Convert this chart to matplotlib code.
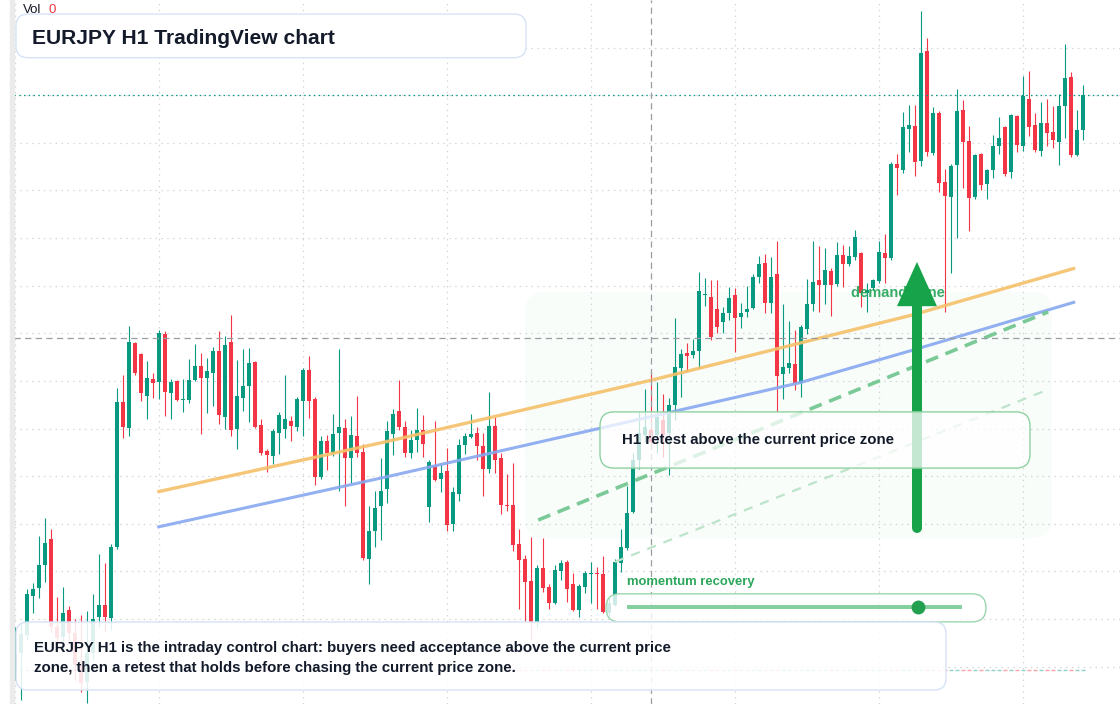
import numpy as np
import matplotlib
matplotlib.use("Agg")
from matplotlib import pyplot as plt
from matplotlib.patches import FancyBboxPatch, Polygon, Rectangle

plt.rcParams['font.family'] = ['Liberation Sans', 'DejaVu Sans']

# EURJPY H1 candles
open_ = [162.191, 162.229, 162.267, 162.348, 162.365, 162.414, 162.468, 162.283, 162.262, 162.319,
         162.271, 162.204, 162.168, 162.229, 162.304, 162.330, 162.302, 162.451, 162.756, 162.701,
         162.880, 162.857, 162.768, 162.804, 162.798, 162.899, 162.775, 162.800, 162.760, 162.760,
         162.802, 162.831, 162.806, 162.817, 162.863, 162.724, 162.882, 162.699, 162.764, 162.789,
         162.840, 162.708, 162.653, 162.642, 162.691, 162.699, 162.716, 162.703, 162.758, 162.823,
         162.762, 162.598, 162.674, 162.649, 162.691, 162.701, 162.638, 162.684, 162.651, 162.426,
         162.485, 162.537, 162.573, 162.689, 162.737, 162.703, 162.649, 162.676, 162.697, 162.535,
         162.621, 162.594, 162.611, 162.500, 162.563, 162.666, 162.682, 162.691, 162.663, 162.615,
         162.705, 162.638, 162.540, 162.540, 162.458, 162.426, 162.380, 162.294, 162.407, 162.367,
         162.334, 162.401, 162.420, 162.374, 162.319, 162.367, 162.395, 162.397, 162.395, 162.313,
         162.330, 162.418, 162.449, 162.525, 162.634, 162.686, 162.697, 162.686, 162.718, 162.691,
         162.750, 162.827, 162.859, 162.855, 162.863, 162.981, 162.976, 162.951, 162.924, 162.943,
         162.981, 162.934, 162.945, 162.953, 163.018, 163.048, 162.964, 163.025, 162.815, 162.827,
         162.836, 162.796, 162.909, 162.962, 163.012, 163.002, 163.031, 163.004, 163.065, 163.046,
         163.060, 163.069, 162.985, 162.995, 163.010, 163.069, 163.058, 163.256, 163.243, 163.329,
         163.335, 163.262, 163.493, 163.279, 163.363, 163.218, 163.186, 163.254, 163.369, 163.304,
         163.186, 163.277, 163.214, 163.243, 163.293, 163.333, 163.239, 163.356, 163.293, 163.392,
         163.338, 163.283, 163.342, 163.323, 163.302, 163.377, 163.438, 163.275, 163.327]
high = [162.283, 162.292, 162.363, 162.376, 162.474, 162.512, 162.489, 162.346, 162.367, 162.327,
        162.300, 162.309, 162.317, 162.353, 162.437, 162.418, 162.458, 162.785, 162.813, 162.915,
        162.882, 162.859, 162.842, 162.817, 162.907, 162.905, 162.804, 162.802, 162.804, 162.846,
        162.878, 162.859, 162.848, 162.871, 162.905, 162.894, 162.939, 162.844, 162.867, 162.869,
        162.842, 162.720, 162.657, 162.699, 162.735, 162.813, 162.726, 162.766, 162.827, 162.852,
        162.766, 162.684, 162.686, 162.731, 162.867, 162.720, 162.726, 162.768, 162.668, 162.537,
        162.569, 162.638, 162.716, 162.741, 162.802, 162.716, 162.697, 162.743, 162.729, 162.634,
        162.716, 162.626, 162.659, 162.577, 162.678, 162.691, 162.731, 162.703, 162.691, 162.777,
        162.724, 162.649, 162.605, 162.628, 162.489, 162.435, 162.472, 162.414, 162.470, 162.374,
        162.414, 162.424, 162.424, 162.397, 162.374, 162.401, 162.420, 162.409, 162.432, 162.344,
        162.426, 162.489, 162.579, 162.649, 162.735, 162.783, 162.821, 162.798, 162.773, 162.764,
        162.932, 162.867, 162.880, 162.888, 163.029, 163.016, 163.012, 163.012, 162.955, 162.997,
        162.995, 162.964, 162.999, 163.025, 163.062, 163.067, 163.060, 163.094, 162.962, 162.926,
        162.907, 162.918, 163.014, 163.094, 163.083, 163.079, 163.037, 163.092, 163.086, 163.083,
        163.117, 163.071, 163.006, 163.014, 163.094, 163.109, 163.260, 163.277, 163.365, 163.380,
        163.380, 163.577, 163.520, 163.375, 163.367, 163.245, 163.256, 163.413, 163.390, 163.335,
        163.277, 163.279, 163.245, 163.317, 163.354, 163.335, 163.361, 163.359, 163.440, 163.451,
        163.363, 163.386, 163.392, 163.377, 163.403, 163.508, 163.449, 163.369, 163.422]
low = [162.172, 162.130, 162.256, 162.313, 162.344, 162.378, 162.273, 162.239, 162.235, 162.256,
       162.172, 162.147, 162.124, 162.214, 162.283, 162.273, 162.277, 162.447, 162.680, 162.684,
       162.813, 162.758, 162.720, 162.764, 162.762, 162.726, 162.720, 162.758, 162.735, 162.754,
       162.800, 162.689, 162.733, 162.747, 162.710, 162.699, 162.684, 162.657, 162.737, 162.714,
       162.701, 162.645, 162.609, 162.626, 162.647, 162.680, 162.674, 162.695, 162.684, 162.722,
       162.581, 162.594, 162.613, 162.642, 162.569, 162.537, 162.586, 162.640, 162.424, 162.374,
       162.451, 162.466, 162.544, 162.645, 162.697, 162.640, 162.638, 162.651, 162.640, 162.504,
       162.590, 162.567, 162.485, 162.485, 162.548, 162.647, 162.680, 162.634, 162.558, 162.607,
       162.607, 162.521, 162.527, 162.443, 162.321, 162.296, 162.256, 162.281, 162.357, 162.321,
       162.332, 162.382, 162.336, 162.317, 162.304, 162.355, 162.334, 162.321, 162.313, 162.306,
       162.327, 162.399, 162.445, 162.523, 162.615, 162.672, 162.663, 162.649, 162.640, 162.603,
       162.718, 162.766, 162.821, 162.848, 162.827, 162.957, 162.886, 162.901, 162.901, 162.928,
       162.861, 162.911, 162.934, 162.951, 163.006, 162.943, 162.943, 162.735, 162.762, 162.817,
       162.781, 162.766, 162.899, 162.947, 162.945, 162.962, 162.936, 162.999, 162.997, 163.041,
       163.054, 162.955, 162.945, 162.991, 163.006, 163.006, 163.054, 163.191, 163.237, 163.281,
       163.230, 163.251, 163.272, 163.275, 163.197, 162.945, 163.027, 163.100, 163.205, 163.115,
       163.182, 163.201, 163.182, 163.226, 163.277, 163.230, 163.226, 163.281, 163.283, 163.314,
       163.281, 163.272, 163.293, 163.289, 163.254, 163.310, 163.270, 163.272, 163.306]
close = [162.225, 162.269, 162.353, 162.363, 162.414, 162.460, 162.283, 162.260, 162.313, 162.271,
         162.204, 162.166, 162.229, 162.300, 162.330, 162.304, 162.451, 162.756, 162.703, 162.882,
         162.817, 162.775, 162.806, 162.796, 162.901, 162.777, 162.798, 162.760, 162.762, 162.802,
         162.831, 162.806, 162.821, 162.863, 162.729, 162.876, 162.697, 162.768, 162.789, 162.838,
         162.703, 162.649, 162.645, 162.695, 162.729, 162.720, 162.705, 162.762, 162.823, 162.758,
         162.598, 162.674, 162.649, 162.689, 162.703, 162.638, 162.686, 162.649, 162.428, 162.485,
         162.533, 162.569, 162.695, 162.731, 162.703, 162.649, 162.676, 162.697, 162.668, 162.630,
         162.592, 162.607, 162.498, 162.567, 162.666, 162.684, 162.689, 162.663, 162.615, 162.705,
         162.634, 162.540, 162.537, 162.456, 162.424, 162.378, 162.294, 162.407, 162.365, 162.334,
         162.403, 162.418, 162.363, 162.319, 162.369, 162.397, 162.397, 162.395, 162.315, 162.334,
         162.420, 162.451, 162.523, 162.634, 162.691, 162.703, 162.672, 162.724, 162.686, 162.750,
         162.829, 162.857, 162.852, 162.863, 162.989, 162.983, 162.892, 162.913, 162.943, 162.974,
         162.932, 162.943, 162.951, 163.018, 163.046, 162.964, 163.018, 162.810, 162.829, 162.838,
         162.796, 162.913, 162.962, 163.008, 163.002, 163.033, 163.002, 163.065, 163.046, 163.062,
         163.102, 162.985, 162.991, 163.012, 163.071, 163.058, 163.256, 163.247, 163.333, 163.338,
         163.260, 163.489, 163.281, 163.363, 163.216, 163.188, 163.251, 163.367, 163.302, 163.184,
         163.275, 163.212, 163.243, 163.293, 163.310, 163.235, 163.359, 163.296, 163.398, 163.333,
         163.285, 163.342, 163.321, 163.306, 163.377, 163.436, 163.275, 163.327, 163.401]

# moving averages drawn on the chart (bar index, price)
ema_fast_x = [23.7, 61.7, 106.2, 149.7, 176.7]
ema_fast_y = [162.567, 162.672, 162.802, 162.939, 163.037]
ema_slow_x = [23.7, 61.7, 91.7, 130.7, 149.7, 176.7]
ema_slow_y = [162.493, 162.598, 162.684, 162.796, 162.865, 162.966]

# projected paths
path_main_x = [87.2, 172.2]
path_main_y = [162.508, 162.945]
path_alt_x = [100.0, 172.0]
path_alt_y = [162.420, 162.781]

# demand zone (bars, price)
zone_x = (85.0, 172.8)
zone_y = (162.470, 162.987)

crosshair_bar = 106
crosshair_price = 162.890
vol_base = 162.193

TEAL = '#089981'
RED = '#f23645'
DARK = '#131a2a'
GREEN = '#16a34a'

open_ = np.array(open_)
high = np.array(high)
low = np.array(low)
close = np.array(close)
idx = np.arange(len(close))

W, H = 1120, 704
fig = plt.figure(figsize=(W / 100, H / 100), dpi=100)
ax = fig.add_axes([14 / W, 0, 1 - 14 / W, 1])
xlim = (-0.17, 184.17)
ylim = (162.1216, 163.600)
ax.set_xlim(*xlim)
ax.set_ylim(*ylim)
ax.set_xticks(np.arange(0, 169, 24))
ax.set_yticks(np.arange(162.2, 163.55, 0.1))
ax.grid(True, color='#d3d5db', ls=(0, (1.2, 3.5)), lw=0.9, zorder=0)
ax.tick_params(length=0, labelleft=False, labelbottom=False)
for s in ax.spines.values():
    s.set_visible(False)
ax.set_axisbelow(True)

fig.patches.append(Rectangle((10 / W, 0), 4 / W, 1, transform=fig.transFigure,
                             color='#ebebeb', zorder=0))

# pixel sizes in data units, for round corners
xpp = (xlim[1] - xlim[0]) / (W - 14)
ypp = (ylim[1] - ylim[0]) / H


def rbox(x0, y0, x1, y1, r_px, fc, ec, lw=1.0, z=7, transform=None):
    if transform is None:
        rx, asp, tr = r_px * xpp, ypp / xpp, ax.transData
    else:
        rx, asp, tr = r_px / (W - 14), (1 / H) / (1 / (W - 14)), ax.transAxes
    p = FancyBboxPatch((x0, y0), x1 - x0, y1 - y0,
                       boxstyle=f"round,pad=0,rounding_size={rx}",
                       mutation_aspect=asp, fc=fc, ec=ec, lw=lw,
                       transform=tr, zorder=z)
    ax.add_patch(p)


# demand zone
rbox(zone_x[0], zone_y[0], zone_x[1], zone_y[1], 20, (0.13, 0.77, 0.37, 0.028), 'none', lw=0, z=1)

# crosshair
ax.axhline(crosshair_price, color='#9a9ca3', ls=(0, (5, 3.5)), lw=0.9, zorder=4.5)
ax.axvline(crosshair_bar, color='#9a9ca3', ls=(0, (5, 3.5)), lw=0.9, zorder=4.5)

# candles
up = close >= open_
cols = np.where(up, TEAL, RED)
ax.vlines(idx, low, high, colors=cols, lw=0.8, zorder=3)
body_lo = np.minimum(open_, close)
body_h = np.maximum(np.abs(close - open_), 0.0018)
ax.bar(idx, body_h, bottom=body_lo, width=0.7, color=cols, lw=0, zorder=3.1)

# zero volume strip
ax.hlines(np.full(len(idx), vol_base), idx - 0.35, idx + 0.35, colors=cols,
          alpha=0.45, lw=1, zorder=2)

# last price line
ax.axhline(close[-1], color=TEAL, ls=(0, (1.2, 2.6)), lw=0.9, zorder=4)

# averages and projections
ax.plot(ema_fast_x, ema_fast_y, color='#f5c069', lw=2.4, alpha=0.9,
        solid_capstyle='butt', zorder=4)
ax.plot(ema_slow_x, ema_slow_y, color='#87a8f0', lw=2.2, alpha=0.9,
        solid_capstyle='butt', zorder=4)
ax.plot(path_main_x, path_main_y, color='#6cc48b', lw=2.6, alpha=0.9,
        ls=(0, (3.6, 2.2)), zorder=4)
ax.plot(path_alt_x, path_alt_y, color='#bde4ca', lw=1.6,
        ls=(0, (4.2, 3.6)), zorder=4)

ax.text(139.33, 162.985, 'demand zone', color='#22a355', fontsize=10.5,
        fontweight='bold', va='center', ha='left', alpha=0.9, zorder=5)

# arrow
ax_x = 150.33
ax.plot([ax_x, ax_x], [162.491, 162.96], color=GREEN, lw=7.2,
        solid_capstyle='round', zorder=6)
ax.add_patch(Polygon([(ax_x - 3.33, 162.957), (ax_x + 3.33, 162.957), (ax_x, 163.050)],
                     closed=True, fc=GREEN, ec='none', zorder=6))

# retest callout
rbox(97.5, 162.617, 169.17, 162.735, 14, (1, 1, 1, 0.75), '#8fd1a2', lw=1.0, z=7)
ax.text(101.17, 162.675, 'H1 retest above the current price zone', color=DARK,
        fontsize=10.8, fontweight='bold', va='center', ha='left', zorder=7.5)

# momentum gauge
ax.text(102, 162.378, 'momentum recovery', color='#2aa75a', fontsize=9.4,
        fontweight='bold', va='center', ha='left', zorder=7.5)
rbox(98.5, 162.294, 161.83, 162.353, 14, (1, 1, 1, 0.8), '#9bd6ae', lw=1.0, z=7)
ax.plot([102, 157.83], [162.325, 162.325], color='#86cf9f', lw=2.9,
        solid_capstyle='butt', zorder=7.5)
ax.plot([150.5], [162.325], 'o', color='#22a050', ms=10, mec='none', zorder=7.6)

# note box
rbox(0.0018, 0.0199, 0.8427, 0.1165, 12, (1, 1, 1, 0.87), '#d6e2f6', lw=1.0, z=8,
     transform=True)
ax.text(0.0181, 0.0795, 'EURJPY H1 is the intraday control chart: buyers need acceptance above the current price',
        transform=ax.transAxes, color=DARK, fontsize=10.8, fontweight='bold',
        va='center', ha='left', zorder=8.5)
ax.text(0.0181, 0.0511, 'zone, then a retest that holds before chasing the current price zone.',
        transform=ax.transAxes, color=DARK, fontsize=10.8, fontweight='bold',
        va='center', ha='left', zorder=8.5)

# title box
rbox(0.0018, 0.918, 0.463, 0.980, 12, 'white', '#d6e3f8', lw=1.0, z=9, transform=True)
ax.text(0.0163, 0.946, 'EURJPY H1 TradingView chart', transform=ax.transAxes,
        color=DARK, fontsize=15.1, fontweight='bold', va='center', ha='left', zorder=9.5)

ax.text(0.0081, 0.986, 'Vol', transform=ax.transAxes, color='#131722', fontsize=9.5,
        va='center', ha='left', zorder=9.5)
ax.text(0.0316, 0.986, '0', transform=ax.transAxes, color=RED, fontsize=9.5,
        va='center', ha='left', zorder=9.5)

fig.savefig('out.png', dpi=100)
